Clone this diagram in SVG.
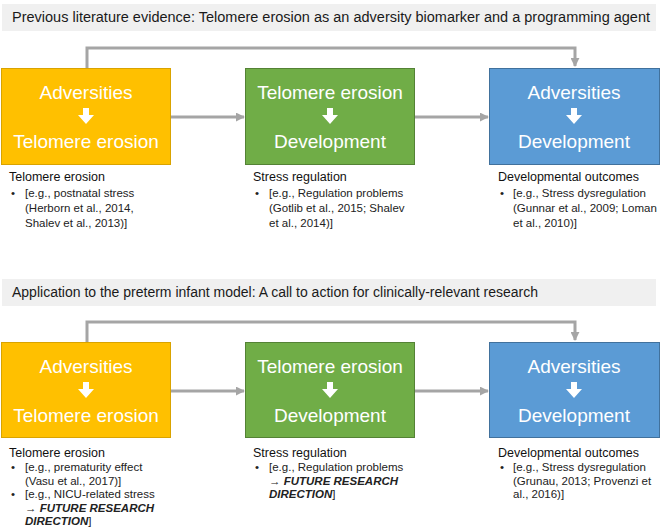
<svg xmlns="http://www.w3.org/2000/svg" width="661" height="530" viewBox="0 0 661 530">
<style>
.bar{fill:#f0f0f0}
.title{font-family:"Liberation Sans",Arial,sans-serif;font-size:14px;fill:#1a1a1a}
.box-o{fill:#ffc000;stroke:#d9a300;stroke-width:1}
.box-g{fill:#70ad47;stroke:#548235;stroke-width:1}
.box-b{fill:#5b9bd5;stroke:#41719c;stroke-width:1}
.bt{font-family:"Liberation Sans",Arial,sans-serif;font-size:19px;fill:#ffffff;text-anchor:middle}
.warr{fill:#ffffff}
.h{font-family:"Liberation Sans",Arial,sans-serif;font-size:12.5px;fill:#111}
.b{font-family:"Liberation Sans",Arial,sans-serif;font-size:11.5px;fill:#222}
.bi{font-weight:bold;font-style:italic}
.conn{fill:none;stroke:#a5a5a5;stroke-width:3}
</style>
<defs>
<marker id="ah" viewBox="0 0 10 10" refX="9" refY="5" markerWidth="3" markerHeight="3" orient="auto" markerUnits="strokeWidth">
<path d="M0,0 L10,5 L0,10 z" fill="#a5a5a5"/>
</marker>
<path id="darr" d="M-3,-8 h6 v7 h5 l-8,9 l-8,-9 h5 z"/>
</defs>

<g id="title1">
<rect class="bar" x="2" y="4" width="654" height="27"/>
<text class="title" x="12" y="22" textLength="638" lengthAdjust="spacingAndGlyphs">Previous literature evidence: Telomere erosion as an adversity biomarker and a programming agent</text>
</g>

<g id="connectors">
<path class="conn" d="M87,68 V48 H575 V66" marker-end="url(#ah)"/>
<path class="conn" d="M171,117 H244" marker-end="url(#ah)"/>
<path class="conn" d="M415,117 H488" marker-end="url(#ah)"/>
<path class="conn" d="M87,342 V322 H575 V340" marker-end="url(#ah)"/>
<path class="conn" d="M171,391 H244" marker-end="url(#ah)"/>
<path class="conn" d="M415,391 H488" marker-end="url(#ah)"/>
</g>

<g id="box1">
<rect class="box-o" x="1.5" y="68.5" width="169" height="96"/>
<text class="bt" x="86" y="99">Adversities</text>
<use href="#darr" class="warr" x="86" y="116"/>
<text class="bt" x="86" y="148">Telomere erosion</text>
</g>
<g id="box2">
<rect class="box-g" x="245.5" y="68.5" width="169" height="96"/>
<text class="bt" x="330" y="99">Telomere erosion</text>
<use href="#darr" class="warr" x="330" y="116"/>
<text class="bt" x="330" y="148">Development</text>
</g>
<g id="box3">
<rect class="box-b" x="489.5" y="68.5" width="170" height="96"/>
<text class="bt" x="574" y="99">Adversities</text>
<use href="#darr" class="warr" x="574" y="116"/>
<text class="bt" x="574" y="148">Development</text>
</g>

<g id="notes1">
<text class="h" x="9" y="181">Telomere erosion</text>
<text class="b" x="11" y="197">•</text>
<text class="b" x="25" y="197">[e.g., postnatal stress</text>
<text class="b" x="25" y="212">(Herborn et al., 2014,</text>
<text class="b" x="25" y="227">Shalev et al., 2013)]</text>
</g>
<g id="notes2">
<text class="h" x="253" y="181">Stress regulation</text>
<text class="b" x="255" y="197">•</text>
<text class="b" x="269" y="197">[e.g., Regulation problems</text>
<text class="b" x="269" y="212">(Gotlib et al., 2015; Shalev</text>
<text class="b" x="269" y="227">et al., 2014)]</text>
</g>
<g id="notes3">
<text class="h" x="498" y="181">Developmental outcomes</text>
<text class="b" x="500" y="197">•</text>
<text class="b" x="513" y="197">[e.g., Stress dysregulation</text>
<text class="b" x="513" y="212">(Gunnar et al., 2009; Loman</text>
<text class="b" x="513" y="227">et al., 2010)]</text>
</g>

<g id="title2">
<rect class="bar" x="2" y="279" width="654" height="27"/>
<text class="title" x="12" y="297">Application to the preterm infant model: A call to action for clinically-relevant research</text>
</g>

<g id="box4">
<rect class="box-o" x="1.5" y="342.5" width="169" height="95"/>
<text class="bt" x="86" y="373">Adversities</text>
<use href="#darr" class="warr" x="86" y="390"/>
<text class="bt" x="86" y="422">Telomere erosion</text>
</g>
<g id="box5">
<rect class="box-g" x="245.5" y="342.5" width="169" height="95"/>
<text class="bt" x="330" y="373">Telomere erosion</text>
<use href="#darr" class="warr" x="330" y="390"/>
<text class="bt" x="330" y="422">Development</text>
</g>
<g id="box6">
<rect class="box-b" x="489.5" y="342.5" width="170" height="95"/>
<text class="bt" x="574" y="373">Adversities</text>
<use href="#darr" class="warr" x="574" y="390"/>
<text class="bt" x="574" y="422">Development</text>
</g>

<g id="notes4">
<text class="h" x="9" y="457">Telomere erosion</text>
<text class="b" x="11" y="471">•</text>
<text class="b" x="25" y="471">[e.g., prematurity effect</text>
<text class="b" x="25" y="484.5">(Vasu et al., 2017)]</text>
<text class="b" x="11" y="498">•</text>
<text class="b" x="25" y="498">[e.g., NICU-related stress</text>
<text class="b" x="25" y="511.5">→ <tspan class="bi">FUTURE RESEARCH</tspan></text>
<text class="b" x="25" y="525"><tspan class="bi">DIRECTION</tspan>]</text>
</g>
<g id="notes5">
<text class="h" x="253" y="457">Stress regulation</text>
<text class="b" x="255" y="471">•</text>
<text class="b" x="269" y="471">[e.g., Regulation problems</text>
<text class="b" x="269" y="484.5">→ <tspan class="bi">FUTURE RESEARCH</tspan></text>
<text class="b" x="269" y="498"><tspan class="bi">DIRECTION</tspan>]</text>
</g>
<g id="notes6">
<text class="h" x="498" y="457">Developmental outcomes</text>
<text class="b" x="500" y="471">•</text>
<text class="b" x="513" y="471">[e.g., Stress dysregulation</text>
<text class="b" x="513" y="484.5">(Grunau, 2013; Provenzi et</text>
<text class="b" x="513" y="498">al., 2016)]</text>
</g>
</svg>
